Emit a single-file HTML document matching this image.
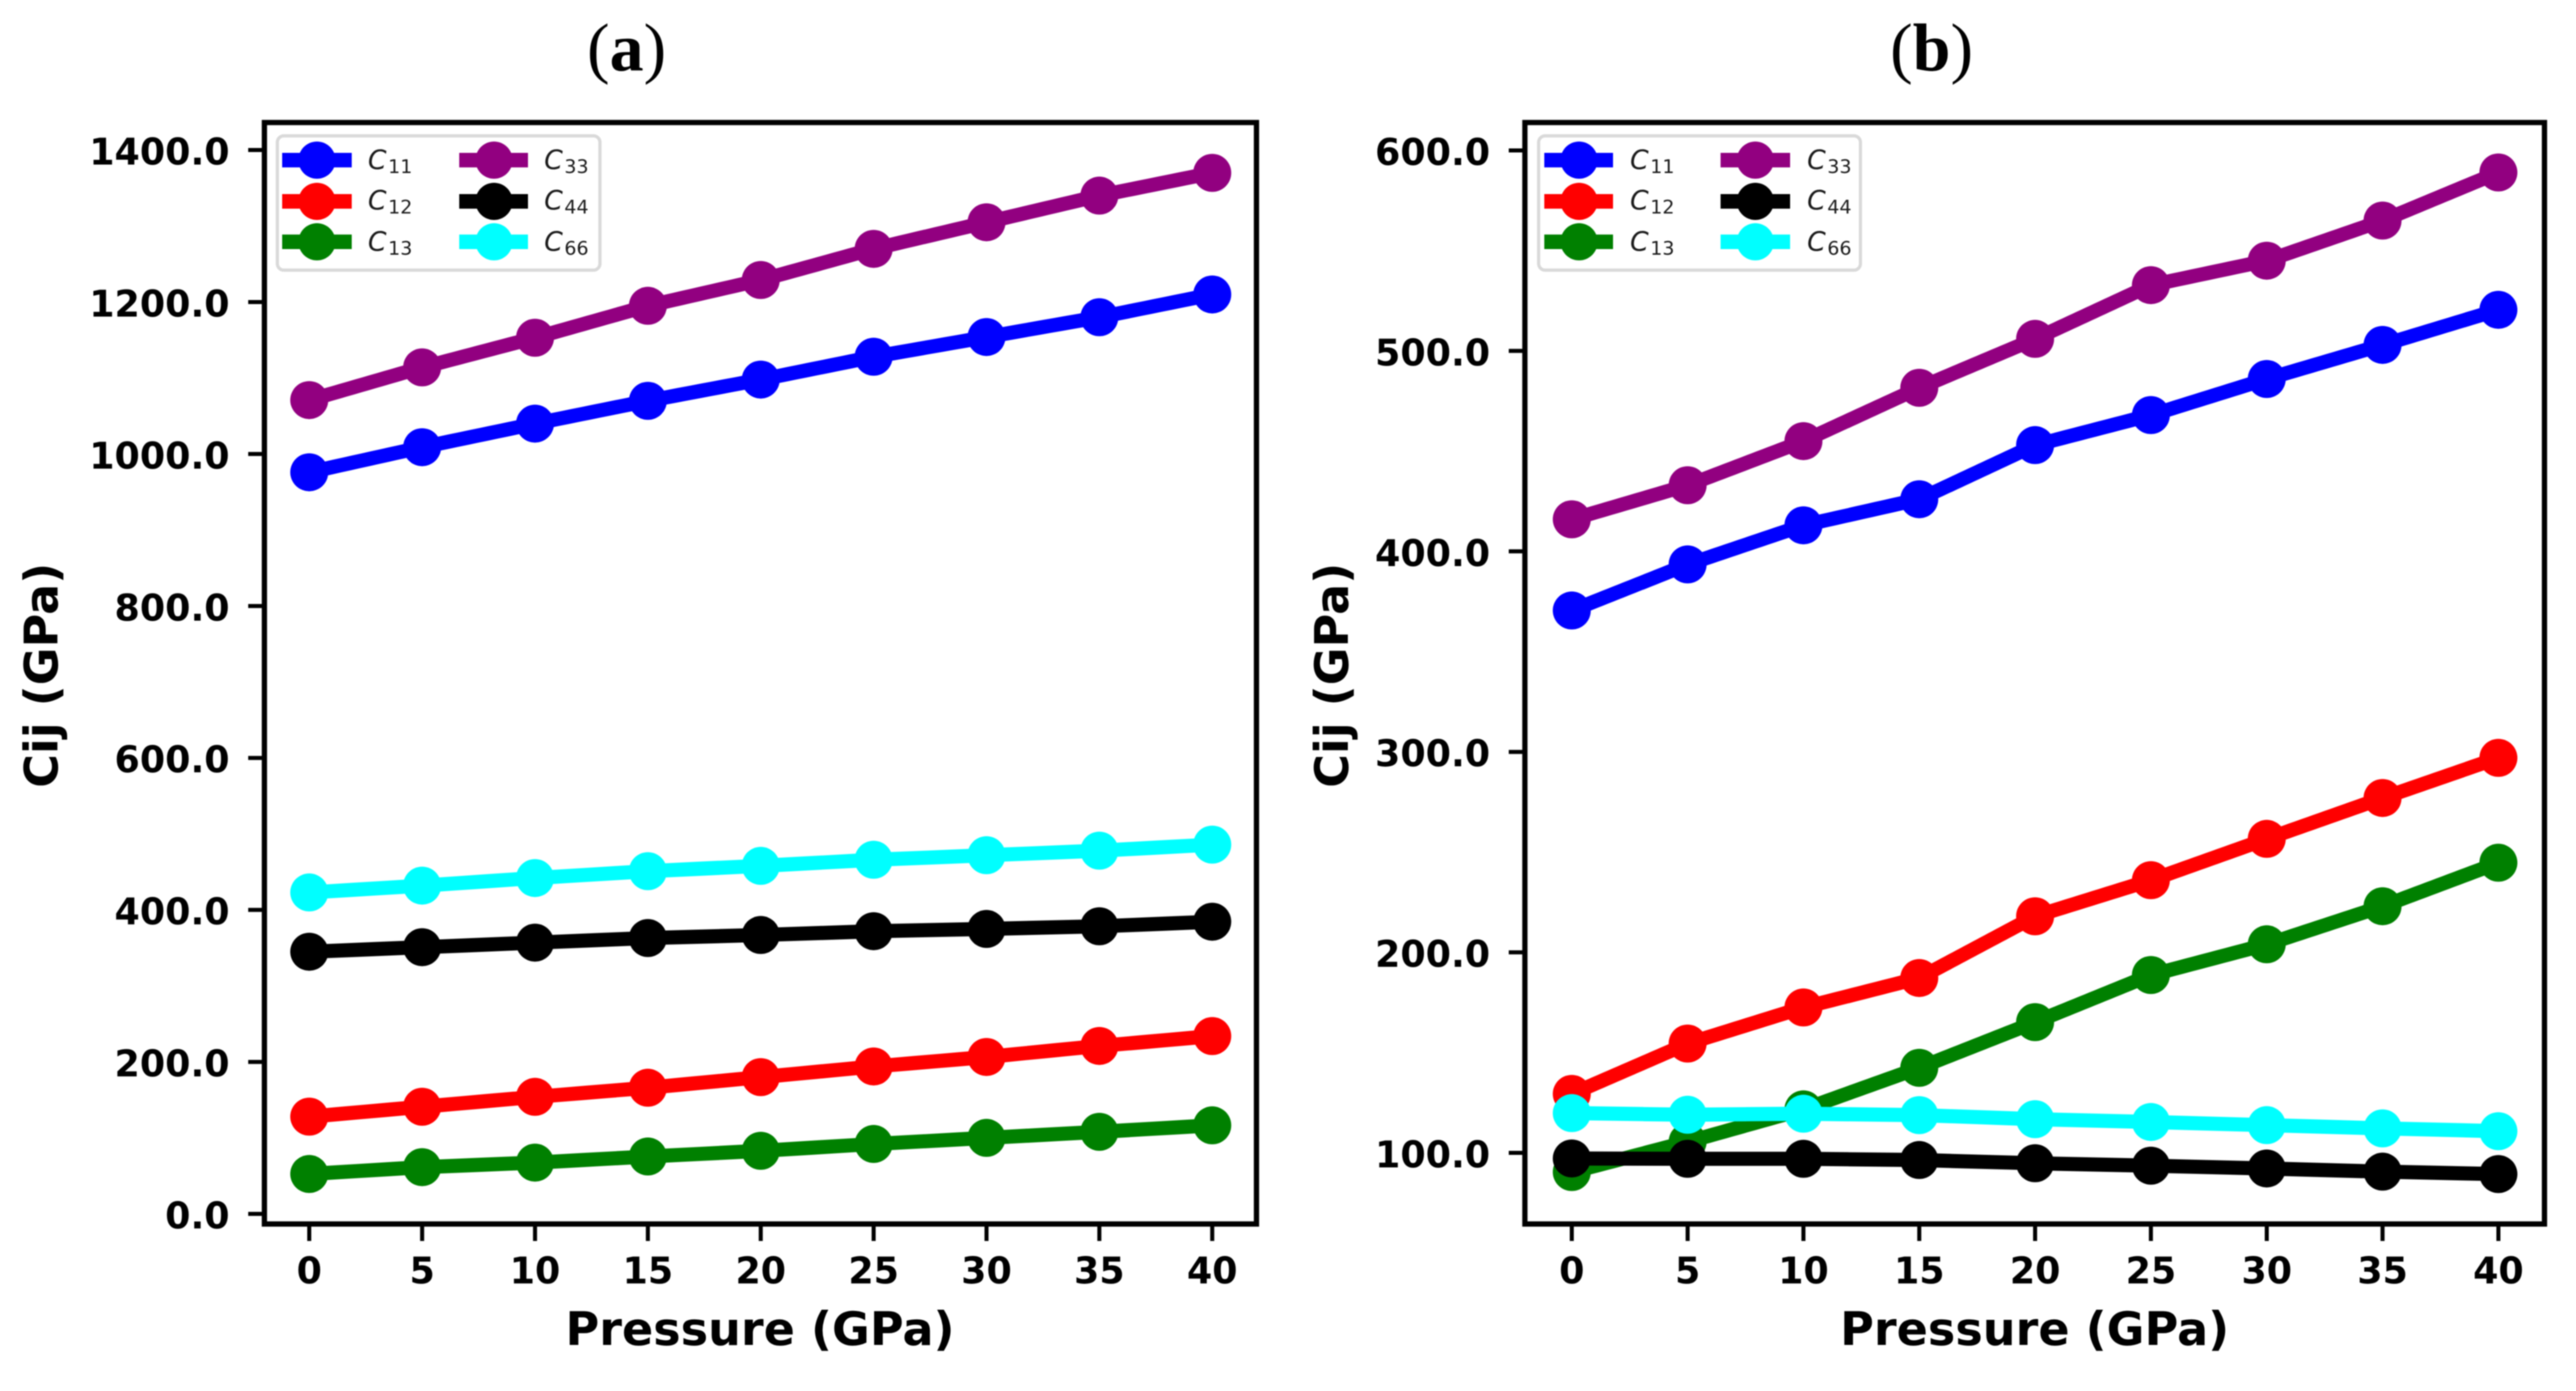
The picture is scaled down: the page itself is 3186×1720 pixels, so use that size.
<!DOCTYPE html>
<html lang="en">
<head>
<meta charset="utf-8">
<title>Elastic constants Cij versus pressure</title>
<style>
  html,body{margin:0;padding:0;background:#fff;}
  body{width:3186px;height:1720px;overflow:hidden;}
  svg{display:block;filter:blur(.7px);}
  .dj{font-family:"DejaVu Sans","Liberation Sans",sans-serif;fill:#000;}
  .tick{font-weight:700;font-size:45px;}
  .axis{font-weight:700;font-size:57px;}
  .leg{font-size:33px;font-style:italic;fill:#1a1a1a;}
  .leg tspan{font-size:23.5px;font-style:normal;}
  .ttl{font-family:"Liberation Serif",serif;font-size:84px;fill:#000;text-anchor:middle;}
  .ttl tspan{font-weight:700;}
  .lf{fill:#fff;stroke:#d9d9d9;stroke-width:4;}
  .ll{stroke-width:18;fill:none;}
</style>
</head>
<body>
<svg id="figure" xmlns="http://www.w3.org/2000/svg" width="3186" height="1720" viewBox="0 0 3186 1720">
  <rect x="0" y="0" width="3186" height="1720" fill="#fff"/>

  <text class="ttl" x="775" y="87">(<tspan>a</tspan>)</text>
  <text class="ttl" x="2389" y="87">(<tspan>b</tspan>)</text>

  <g id="panel-a"></g>
  <g id="panel-b"></g>

  <text class="dj axis" x="940" y="1663" text-anchor="middle">Pressure (GPa)</text>
  <text class="dj axis" x="2516.5" y="1663" text-anchor="middle">Pressure (GPa)</text>
  <text class="dj axis" transform="translate(71,835) rotate(-90)" text-anchor="middle">Cij (GPa)</text>
  <text class="dj axis" transform="translate(1667,835) rotate(-90)" text-anchor="middle">Cij (GPa)</text>

  <g>
    <rect class="lf" x="343" y="168" width="399" height="166" rx="8"/>
    <g><line class="ll" x1="349" x2="435" y1="198" y2="198" stroke="#0000ff"/><circle cx="392" cy="198" r="23" fill="#0000ff"/><text class="dj leg" x="455" y="209">C<tspan dx="2" dy="5">11</tspan></text></g>
    <g><line class="ll" x1="349" x2="435" y1="249" y2="249" stroke="#ff0000"/><circle cx="392" cy="249" r="23" fill="#ff0000"/><text class="dj leg" x="455" y="259">C<tspan dx="2" dy="5">12</tspan></text></g>
    <g><line class="ll" x1="349" x2="435" y1="299" y2="299" stroke="#008000"/><circle cx="392" cy="299" r="23" fill="#008000"/><text class="dj leg" x="455" y="310">C<tspan dx="2" dy="5">13</tspan></text></g>
    <g><line class="ll" x1="568" x2="653" y1="198" y2="198" stroke="#920080"/><circle cx="611" cy="198" r="23" fill="#920080"/><text class="dj leg" x="673" y="209">C<tspan dx="2" dy="5">33</tspan></text></g>
    <g><line class="ll" x1="568" x2="653" y1="249" y2="249" stroke="#000000"/><circle cx="611" cy="249" r="23" fill="#000000"/><text class="dj leg" x="673" y="259">C<tspan dx="2" dy="5">44</tspan></text></g>
    <g><line class="ll" x1="568" x2="653" y1="299" y2="299" stroke="#00ffff"/><circle cx="611" cy="299" r="23" fill="#00ffff"/><text class="dj leg" x="673" y="310">C<tspan dx="2" dy="5">66</tspan></text></g>
  </g>

  <g>
    <rect class="lf" x="1903" y="168" width="398" height="166" rx="8"/>
    <g><line class="ll" x1="1910" x2="1995" y1="198" y2="198" stroke="#0000ff"/><circle cx="1953" cy="198" r="23" fill="#0000ff"/><text class="dj leg" x="2016" y="209">C<tspan dx="2" dy="5">11</tspan></text></g>
    <g><line class="ll" x1="1910" x2="1995" y1="249" y2="249" stroke="#ff0000"/><circle cx="1953" cy="249" r="23" fill="#ff0000"/><text class="dj leg" x="2016" y="259">C<tspan dx="2" dy="5">12</tspan></text></g>
    <g><line class="ll" x1="1910" x2="1995" y1="299" y2="299" stroke="#008000"/><circle cx="1953" cy="299" r="23" fill="#008000"/><text class="dj leg" x="2016" y="310">C<tspan dx="2" dy="5">13</tspan></text></g>
    <g><line class="ll" x1="2128" x2="2214" y1="198" y2="198" stroke="#920080"/><circle cx="2171" cy="198" r="23" fill="#920080"/><text class="dj leg" x="2235" y="209">C<tspan dx="2" dy="5">33</tspan></text></g>
    <g><line class="ll" x1="2128" x2="2214" y1="249" y2="249" stroke="#000000"/><circle cx="2171" cy="249" r="23" fill="#000000"/><text class="dj leg" x="2235" y="259">C<tspan dx="2" dy="5">44</tspan></text></g>
    <g><line class="ll" x1="2128" x2="2214" y1="299" y2="299" stroke="#00ffff"/><circle cx="2171" cy="299" r="23" fill="#00ffff"/><text class="dj leg" x="2235" y="310">C<tspan dx="2" dy="5">66</tspan></text></g>
  </g>
</svg>

<script>
// Shared categories
const pressures = [0, 5, 10, 15, 20, 25, 30, 35, 40];
const xTickLabels = ['0', '5', '10', '15', '20', '25', '30', '35', '40'];

// Panel (a) values, GPa
const a_c11 = [976, 1009, 1040, 1070, 1098, 1128, 1154, 1180, 1210];
const a_c12 = [128, 141, 154, 166, 180, 194, 206.5, 221, 234];
const a_c13 = [52.5, 61.5, 67.5, 75.5, 83, 92, 100, 108, 116.5];
const a_c33 = [1071, 1114, 1153, 1195, 1229, 1270, 1305, 1340, 1370];
const a_c44 = [345, 351, 357, 363, 367, 372, 375, 378.5, 384.5];
const a_c66 = [423, 432, 442, 451, 458, 466, 472, 478, 486];
const a_yTicks = [0, 200, 400, 600, 800, 1000, 1200, 1400];

// Panel (b) values, GPa
const b_c11 = [370.5, 393.5, 413, 426, 453, 468, 486, 503, 520.5];
const b_c12 = [129.4, 154.5, 172.5, 187.2, 218, 236, 256.6, 277, 297];
const b_c13 = [90.4, 105.5, 121.7, 142.4, 165.2, 188.7, 204, 223, 244.7];
const b_c33 = [416, 433, 455, 481.6, 506, 532.8, 545, 565, 589];
const b_c44 = [97.2, 97, 97, 96.4, 94.8, 93.6, 92.2, 90.6, 89.4];
const b_c66 = [119.8, 119, 119.5, 118.8, 116.8, 115.4, 113.8, 112.2, 110.8];
const b_yTicks = [100, 200, 300, 400, 500, 600];

const seriesNames = ['c11', 'c12', 'c13', 'c33', 'c44', 'c66'];
const seriesColors = ['#0000ff', '#ff0000', '#008000', '#920080', '#000000', '#00ffff'];

const SVG_NS = 'http://www.w3.org/2000/svg';

function svgEl(tag, attrs, parent) {
  const el = document.createElementNS(SVG_NS, tag);
  for (const k in attrs) el.setAttribute(k, attrs[k]);
  parent.appendChild(el);
  return el;
}

function drawPanel(id, box, xAt, yAt, yTicks, seriesList) {
  const root = document.getElementById(id);

  // Series: lines first, then markers, in plotting order
  seriesList.forEach(function (vals, s) {
    const g = svgEl('g', {}, root);
    
    
    const pts = vals.map(function (v, i) { return xAt(pressures[i]) + ',' + yAt(v); }).join(' ');
    const line = svgEl('polyline', { points: pts, fill: 'none', stroke: seriesColors[s], 'stroke-width': 17.5, 'stroke-linejoin': 'round' }, g);
    
    
    vals.forEach(function (v, i) {
      const c = svgEl('circle', { cx: xAt(pressures[i]), cy: yAt(v), r: 23.5, fill: seriesColors[s] }, g);
      
      
    });
  });

  // Frame
  const frame = svgEl('rect', { x: box.l, y: box.t, width: box.r - box.l, height: box.b - box.t, fill: 'none', stroke: '#000', 'stroke-width': 6.5 }, root);
  
  

  // X axis ticks
  pressures.forEach(function (p, i) {
    const t = svgEl('line', { x1: xAt(p), x2: xAt(p), y1: box.b, y2: box.b + 21, stroke: '#000', 'stroke-width': 5 }, root);
    
    
    const lab = svgEl('text', { x: xAt(p), y: 1587, 'text-anchor': 'middle', class: 'dj tick' }, root);
    lab.textContent = xTickLabels[i];
    
    
  });

  // Y axis ticks
  yTicks.forEach(function (v) {
    const t = svgEl('line', { x1: box.l - 20, x2: box.l, y1: yAt(v), y2: yAt(v), stroke: '#000', 'stroke-width': 5 }, root);
    
    
    const lab = svgEl('text', { x: box.l - 43, y: yAt(v) + 18, 'text-anchor': 'end', class: 'dj tick' }, root);
    lab.textContent = v.toFixed(1);
    
    
  });
}

drawPanel('panel-a',
  { l: 327, t: 151.5, r: 1554, b: 1513.5 },
  function (p) { return 382.5 + p * 27.92; },
  function (v) { return 1501 - v * 0.9396; },
  a_yTicks,
  [a_c11, a_c12, a_c13, a_c33, a_c44, a_c66]);

drawPanel('panel-b',
  { l: 1886, t: 151.5, r: 3147, b: 1513.5 },
  function (p) { return 1944 + p * 28.65; },
  function (v) { return 1425.5 - (v - 100) * 2.479; },
  b_yTicks,
  [b_c11, b_c12, b_c13, b_c33, b_c44, b_c66]);
</script>
</body>
</html>
